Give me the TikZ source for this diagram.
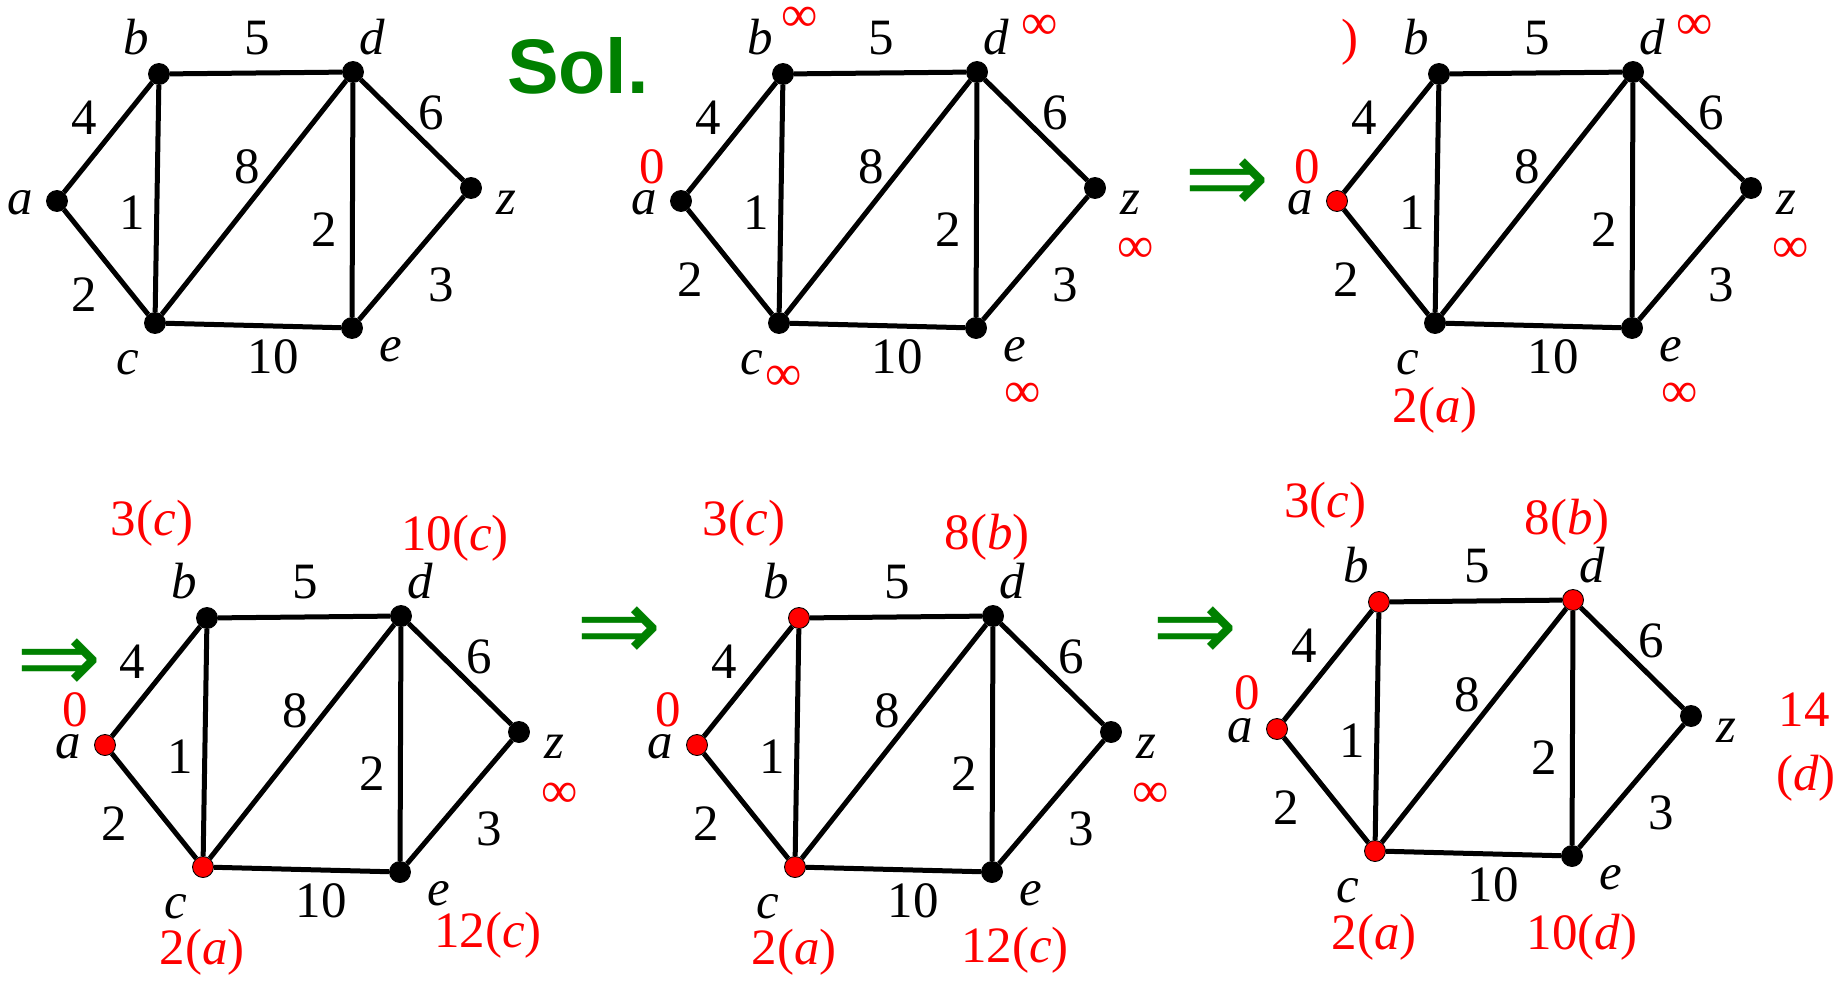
\documentclass[tikz,border=0pt]{standalone}
\usepackage{fontspec}
\setmainfont{Liberation Serif}
\newfontfamily\solfont{Liberation Sans}
\newfontfamily\arrfont{DejaVu Sans}
\definecolor{solgreen}{RGB}{0,128,0}

\begin{document}
\begin{tikzpicture}[x=0.02cm,y=-0.02cm,
    vtx/.style={circle,draw=black,line width=0.5pt,inner sep=0pt,minimum size=0.42cm},
    edge/.style={line width=0.1cm},
    every node/.style={font=\rmfamily\fontsize{29}{34}\selectfont},
    dist/.style={text=red,inner sep=1pt},
    nextstep/.style={text=solgreen,inner sep=1pt,font=\arrfont\fontsize{58}{58}\selectfont}]
  \useasboundingbox (0,0) rectangle (1845,980);
  % the graph, once for every stage of the search
  \foreach \p/\dx/\dy/\ca/\cb/\cc/\cd/\tx/\ty in {1/0/0/black/black/black/black/84/295,
      2/624/0/black/black/black/black/66/280, 3/1280/0/red/black/black/black/66/280,
      4/48/544/red/black/red/black/66/280, 5/640/544/red/red/red/black/66/280,
      6/1220/528/red/red/red/red/66/280}{
    \begin{scope}[shift={(\dx,\dy)}]
      \node[vtx,fill=\ca] (a\p) at (57,201) {};
      \node[vtx,fill=\cb] (b\p) at (159,74) {};
      \node[vtx,fill=\cc] (c\p) at (155,323) {};
      \node[vtx,fill=\cd] (d\p) at (353,72) {};
      \node[vtx,fill=black] (e\p) at (352,328) {};
      \node[vtx,fill=black] (z\p) at (471,188) {};
      \draw[edge] (a\p)--(b\p)--(d\p)--(z\p)--(e\p)--(c\p)--(a\p);
      \draw[edge] (b\p)--(c\p)--(d\p)--(e\p);
      \node (na\p) at (20,203) {\textit{a}};
      \node (nb\p) at (136,37) {\textit{b}};
      \node (nc\p) at (128,363) {\textit{c}};
      \node (nd\p) at (372,37) {\textit{d}};
      \node (ne\p) at (391,350) {\textit{e}};
      \node (nz\p) at (506,203) {\textit{z}};
      \node (wab\p) at (84,118) {4};
      \node (wac\p) at (\tx,\ty) {2};
      \node (wbc\p) at (132,213) {1};
      \node (wbd\p) at (257,38) {5};
      \node (wcd\p) at (247,167) {8};
      \node (wce\p) at (273,357) {10};
      \node (wde\p) at (324,230) {2};
      \node (wdz\p) at (431,113) {6};
      \node (wez\p) at (441,285) {3};
    \end{scope}
  }
  \node[text=solgreen,font=\solfont\bfseries\fontsize{44}{44}\selectfont] (sol) at (578,66) {Sol.};
  % arrows between the stages
  \node[nextstep] (s1) at (1227,186) {⇒};
  \node[nextstep] (s2) at (59,666) {⇒};
  \node[nextstep] (s3) at (619,634) {⇒};
  \node[nextstep] (s4) at (1195,634) {⇒};
  % stage 2
  \node[dist] (l2a) at (652,167) {0};
  \node[dist] (l2b) at (800,19) {∞};
  \node[dist] (l2c) at (784,378) {∞};
  \node[dist] (l2d) at (1040,27) {∞};
  \node[dist] (l2e) at (1023,395) {∞};
  \node[dist] (l2z) at (1136,250) {∞};
  % stage 3
  \node[dist] (l3a) at (1307,167) {0};
  \node[dist] (l3b) at (1350,42) {)};
  \node[dist] (l3c) at (1435,410) {2(\textit{a})};
  \node[dist] (l3d) at (1695,27) {∞};
  \node[dist] (l3e) at (1680,395) {∞};
  \node[dist] (l3z) at (1791,250) {∞};
  % stage 4
  \node[dist] (l4a) at (75,710) {0};
  \node[dist] (l4b) at (152,523) {3(\textit{c})};
  \node[dist] (l4c) at (202,952) {2(\textit{a})};
  \node[dist] (l4d) at (455,538) {10(\textit{c})};
  \node[dist] (l4e) at (488,935) {12(\textit{c})};
  \node[dist] (l4z) at (560,795) {∞};
  % stage 5
  \node[dist] (l5a) at (668,710) {0};
  \node[dist] (l5b) at (744,523) {3(\textit{c})};
  \node[dist] (l5c) at (794,952) {2(\textit{a})};
  \node[dist] (l5d) at (987,537) {8(\textit{b})};
  \node[dist] (l5e) at (1015,950) {12(\textit{c})};
  \node[dist] (l5z) at (1151,795) {∞};
  % stage 6
  \node[dist] (l6a) at (1247,693) {0};
  \node[dist] (l6b) at (1325,505) {3(\textit{c})};
  \node[dist] (l6c) at (1374,937) {2(\textit{a})};
  \node[dist] (l6d) at (1567,522) {8(\textit{b})};
  \node[dist] (l6e) at (1582,937) {10(\textit{d})};
  \node[dist] (l6z) at (1804,710) {14};
  \node[dist] (l6zp) at (1806,778) {(\textit{d})};
\end{tikzpicture}
\end{document}
